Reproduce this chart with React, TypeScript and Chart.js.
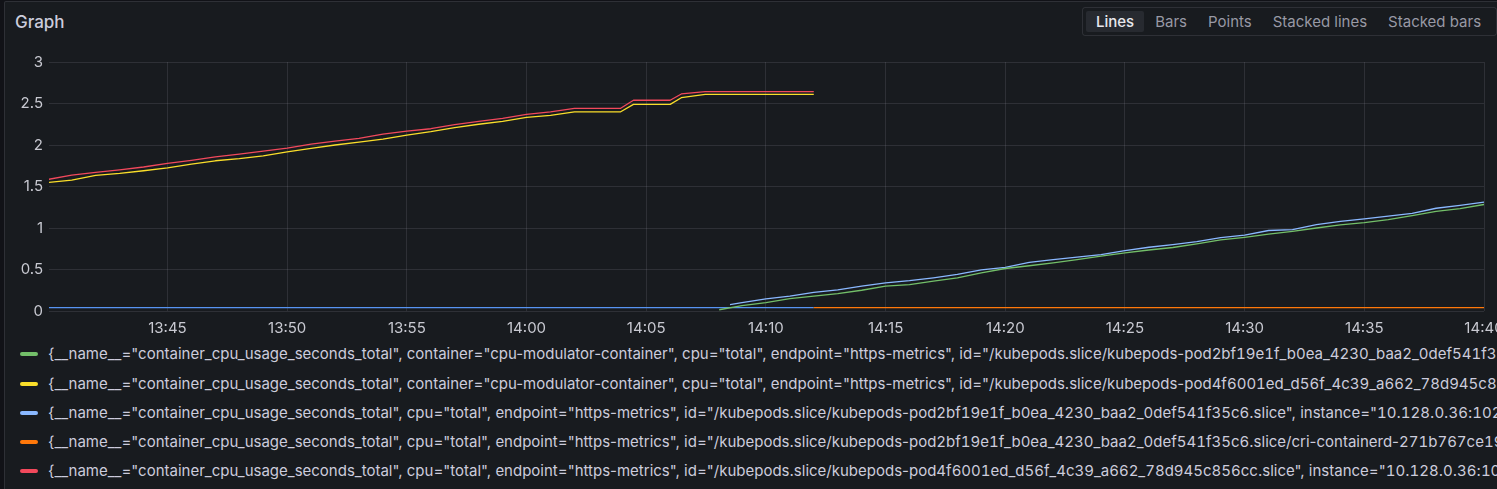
import React, { useEffect, useRef } from "react";
import { Chart, registerables } from "chart.js";

Chart.register(...registerables);

const FONT = "Inter, 'Noto Sans', 'DejaVu Sans', sans-serif";

// ---------- data ----------
const xMinTime = "13:40:03";
const xMaxTime = "14:40:00";
const xTickTimes = ["13:45", "13:50", "13:55", "14:00", "14:05", "14:10", "14:15", "14:20", "14:25", "14:30", "14:35", "14:40"];
const yTickValues = [0, 0.5, 1, 1.5, 2, 2.5, 3];

const podATimes = [
  "13:40:00", "13:41:00", "13:42:00", "13:43:00", "13:44:00", "13:45:00", "13:46:00", "13:47:00",
  "13:48:00", "13:49:00", "13:50:00", "13:51:00", "13:52:00", "13:53:00", "13:54:00", "13:55:00",
  "13:56:00", "13:57:00", "13:58:00", "13:59:00", "14:00:00", "14:01:00", "14:02:00", "14:03:00",
  "14:03:56", "14:04:28", "14:06:00", "14:06:28", "14:07:28", "14:12:00",
];
const redValues = [
  1.585, 1.636, 1.67, 1.7, 1.735, 1.778, 1.815, 1.857, 1.89, 1.925, 1.962, 2.01, 2.047, 2.08, 2.13,
  2.168, 2.196, 2.245, 2.285, 2.32, 2.37, 2.4, 2.442, 2.442, 2.442, 2.539, 2.539, 2.615, 2.643, 2.643,
];
const yellowValues = [
  1.548, 1.578, 1.633, 1.657, 1.69, 1.725, 1.77, 1.81, 1.835, 1.87, 1.918, 1.96, 2.0, 2.035, 2.07,
  2.12, 2.16, 2.21, 2.25, 2.285, 2.333, 2.357, 2.4, 2.4, 2.4, 2.49, 2.49, 2.57, 2.611, 2.611,
];

const greenTimes = [
  "14:08:03", "14:09:00", "14:10:00", "14:11:00", "14:12:00", "14:13:00", "14:14:00", "14:15:00",
  "14:16:00", "14:17:00", "14:18:00", "14:19:00", "14:20:00", "14:21:00", "14:22:00", "14:23:00",
  "14:24:00", "14:25:00", "14:26:00", "14:27:00", "14:28:00", "14:29:00", "14:30:00", "14:31:00",
  "14:32:00", "14:33:00", "14:34:00", "14:35:00", "14:36:00", "14:37:00", "14:38:00", "14:39:00", "14:40:00",
];
const greenValues = [
  0.015, 0.066, 0.1, 0.148, 0.18, 0.21, 0.25, 0.3, 0.318, 0.36, 0.4, 0.46, 0.512, 0.545, 0.58, 0.62,
  0.66, 0.7, 0.735, 0.765, 0.81, 0.856, 0.888, 0.925, 0.96, 1.0, 1.037, 1.065, 1.1, 1.15, 1.2, 1.234, 1.283,
];

const lightBlueTimes = [
  "14:08:30", "14:09:00", "14:10:00", "14:11:00", "14:12:00", "14:13:00", "14:14:00", "14:15:00",
  "14:16:00", "14:17:00", "14:18:00", "14:19:00", "14:20:00", "14:21:00", "14:22:00", "14:23:00",
  "14:24:00", "14:25:00", "14:26:00", "14:27:00", "14:28:00", "14:29:00", "14:30:00", "14:31:00",
  "14:32:00", "14:33:00", "14:34:00", "14:35:00", "14:36:00", "14:37:00", "14:38:00", "14:39:00", "14:40:00",
];
const lightBlueValues = [
  0.076, 0.1, 0.145, 0.178, 0.225, 0.255, 0.3, 0.338, 0.365, 0.4, 0.44, 0.495, 0.525, 0.585, 0.62, 0.648,
  0.68, 0.727, 0.768, 0.8, 0.835, 0.885, 0.915, 0.97, 0.98, 1.04, 1.08, 1.11, 1.142, 1.175, 1.238, 1.272, 1.312,
];

const orangeTimes = ["14:12:00", "14:20:00", "14:30:00", "14:40:00"];
const orangeValues = [0.04, 0.04, 0.04, 0.04];

const blueTimes = ["13:40:00", "13:50:00", "14:00:00", "14:12:00"];
const blueValues = [0.04, 0.04, 0.04, 0.04];

const seriesLabels = [
  '{__name__="container_cpu_usage_seconds_total", container="cpu-modulator-container", cpu="total", endpoint="https-metrics", id="/kubepods.slice/kubepods-pod2bf19e1f_b0ea_4230_baa2_0def541f35c6.slice/cri-containerd-271b767ce19.scope", instance="10.128.0.36:10250"}',
  '{__name__="container_cpu_usage_seconds_total", container="cpu-modulator-container", cpu="total", endpoint="https-metrics", id="/kubepods.slice/kubepods-pod4f6001ed_d56f_4c39_a662_78d945c856cc.slice/cri-containerd-8a1c.scope", instance="10.128.0.36:10250"}',
  '{__name__="container_cpu_usage_seconds_total", cpu="total", endpoint="https-metrics", id="/kubepods.slice/kubepods-pod2bf19e1f_b0ea_4230_baa2_0def541f35c6.slice", instance="10.128.0.36:10250", job="kubelet"}',
  '{__name__="container_cpu_usage_seconds_total", cpu="total", endpoint="https-metrics", id="/kubepods.slice/kubepods-pod2bf19e1f_b0ea_4230_baa2_0def541f35c6.slice/cri-containerd-271b767ce19.scope", instance="10.128.0.36:10250"}',
  '{__name__="container_cpu_usage_seconds_total", cpu="total", endpoint="https-metrics", id="/kubepods.slice/kubepods-pod4f6001ed_d56f_4c39_a662_78d945c856cc.slice", instance="10.128.0.36:10250", job="kubelet"}',
  '{__name__="container_cpu_usage_seconds_total", cpu="total", endpoint="https-metrics", id="/kubepods.slice/kubepods-pod4f6001ed_d56f_4c39_a662_78d945c856cc.slice/cri-containerd-8a1c.scope", instance="10.128.0.36:10250"}',
];
const seriesColors = ["#73BF69", "#FADE2A", "#8AB8FF", "#FF780A", "#F2495C", "#5794F2"];

const viewButtons = ["Lines", "Bars", "Points", "Stacked lines", "Stacked bars"];
const selectedButton = "Lines";

// ---------- helpers ----------
function toMinutes(t: string): number {
  const p = t.split(":").map(Number);
  return p[0] * 60 + p[1] + (p[2] || 0) / 60;
}
function fmtTime(m: number): string {
  const h = Math.floor(m / 60);
  const mm = Math.round(m - h * 60);
  return `${String(h).padStart(2, "0")}:${String(mm).padStart(2, "0")}`;
}
function pts(times: string[], vals: number[]) {
  return times.map((t, i) => ({ x: toMinutes(t), y: vals[i] }));
}
function renderLabel(label: string) {
  return label.split(/(\d+)/).map((part, i) =>
    /^\d+$/.test(part) ? (
      <span key={i} style={{ fontVariantNumeric: "tabular-nums" }}>
        {part}
      </span>
    ) : (
      <React.Fragment key={i}>{part}</React.Fragment>
    )
  );
}

const seriesData = [
  pts(greenTimes, greenValues),
  pts(podATimes, yellowValues),
  pts(lightBlueTimes, lightBlueValues),
  pts(orangeTimes, orangeValues),
  pts(podATimes, redValues),
  pts(blueTimes, blueValues),
];

const TEXT = "#ccccdc";

export default function App() {
  const canvasRef = useRef<HTMLCanvasElement | null>(null);

  useEffect(() => {
    document.body.style.margin = "0";
    document.body.style.background = "#111217";
    const canvas = canvasRef.current;
    if (!canvas) return;
    const chart = new Chart(canvas, {
      type: "line",
      data: {
        datasets: seriesData.map((d, i) => ({
          label: seriesLabels[i],
          data: d,
          borderColor: seriesColors[i],
          backgroundColor: seriesColors[i],
          borderWidth: 1.3,
          pointRadius: 0,
          pointHoverRadius: 0,
          tension: 0,
          fill: false,
          borderJoinStyle: "round" as const,
        })),
      },
      options: {
        animation: false,
        responsive: false,
        maintainAspectRatio: false,
        devicePixelRatio: 1,
        layout: { padding: { left: 0, right: 13, top: 12, bottom: 0 } },
        plugins: { legend: { display: false }, tooltip: { enabled: false } },
        events: [],
        scales: {
          x: {
            type: "linear",
            min: toMinutes(xMinTime),
            max: toMinutes(xMaxTime),
            afterBuildTicks: (scale: any) => {
              scale.ticks = xTickTimes.map((t) => ({ value: toMinutes(t) }));
            },
            afterFit: (scale: any) => {
              scale.height = 29;
              scale.paddingLeft = 0;
              scale.paddingRight = 0;
            },
            grid: {
              color: "rgba(204,204,220,0.12)",
              drawTicks: false,
              lineWidth: 1,
            },
            border: { display: false },
            ticks: {
              autoSkip: false,
              maxRotation: 0,
              minRotation: 0,
              padding: 8,
              color: "#c8c9d1",
              font: { family: FONT, size: 15 },
              callback: (v: any) => fmtTime(Number(v)),
            },
          },
          y: {
            type: "linear",
            min: 0,
            max: 3,
            afterBuildTicks: (scale: any) => {
              scale.ticks = yTickValues.map((v) => ({ value: v }));
            },
            afterFit: (scale: any) => {
              scale.width = 45;
              scale.paddingTop = 0;
              scale.paddingBottom = 0;
            },
            grid: {
              color: "rgba(204,204,220,0.12)",
              drawTicks: false,
              lineWidth: 1,
            },
            border: { display: false },
            ticks: {
              padding: 6,
              color: "#c8c9d1",
              font: { family: FONT, size: 15 },
              callback: (v: any) => String(v),
            },
          },
        },
      },
    } as any);
    return () => chart.destroy();
  }, []);

  return (
    <div
      style={{
        position: "relative",
        width: 1497,
        height: 489,
        overflow: "hidden",
        background: "#111217",
        fontFamily: FONT,
      }}
    >
      <div
        style={{
          position: "absolute",
          left: 4,
          top: 1,
          width: 1540,
          height: 540,
          background: "#181b1f",
          border: "1px solid rgba(204,204,220,0.12)",
          borderRadius: 2,
          boxSizing: "border-box",
        }}
      />
      <div
        style={{
          position: "absolute",
          left: 15,
          top: 12,
          lineHeight: "20px",
          fontSize: 17,
          fontWeight: 500,
          color: TEXT,
          whiteSpace: "nowrap",
        }}
      >
        Graph
      </div>
      <div
        style={{
          position: "absolute",
          left: 1082,
          top: 7,
          width: 415,
          height: 29,
          boxSizing: "border-box",
          border: "1px solid rgba(204,204,220,0.12)",
          borderRadius: 3,
          display: "flex",
          alignItems: "center",
          paddingLeft: 3,
          gap: 1,
        }}
      >
        {viewButtons.map((b) => {
          const sel = b === selectedButton;
          return (
            <div
              key={b}
              style={{
                height: 21,
                lineHeight: "21px",
                padding: "0 10px",
                fontSize: 15,
                fontWeight: sel ? 500 : 400,
                color: sel ? "#e8e8ee" : "rgba(204,204,220,0.72)",
                background: sel ? "#272a30" : "transparent",
                borderRadius: 2,
                whiteSpace: "nowrap",
              }}
            >
              {b}
            </div>
          );
        })}
      </div>
      <canvas
        ref={canvasRef}
        width={1493}
        height={290}
        style={{ position: "absolute", left: 4, top: 50, width: 1493, height: 290 }}
      />
      {seriesLabels.map((label, i) => (
        <div
          key={i}
          style={{
            position: "absolute",
            left: 0,
            top: 344.3 + i * 29.2,
            height: 20,
            width: 1497,
            whiteSpace: "nowrap",
          }}
        >
          <div
            style={{
              position: "absolute",
              left: 20,
              top: 8,
              width: 17.5,
              height: 4,
              borderRadius: 2,
              background: seriesColors[i],
            }}
          />
          <div
            style={{
              position: "absolute",
              left: 48,
              top: 0,
              lineHeight: "20px",
              fontSize: 15,
              color: TEXT,
              whiteSpace: "nowrap",
            }}
          >
            {renderLabel(label)}
          </div>
        </div>
      ))}
    </div>
  );
}
